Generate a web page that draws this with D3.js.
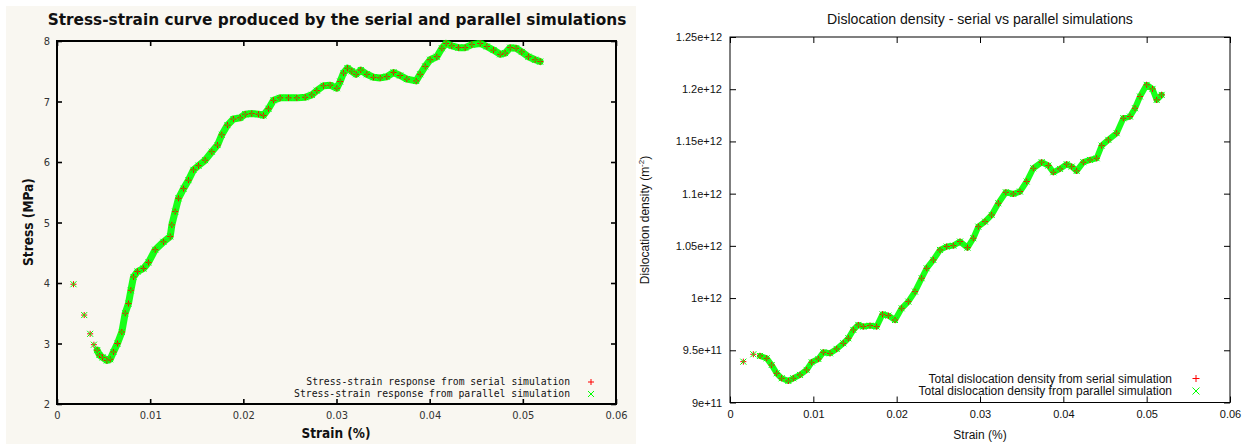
<!DOCTYPE html>
<html><head><meta charset="utf-8">
<script src="https://cdn.jsdelivr.net/npm/d3@7"></script>
<style>body{margin:0;background:#fff}svg{display:block}</style>
</head><body>
<svg id="c" width="1250" height="444"></svg>
<script>
// ---------- Left chart data: stress-strain ----------
const strainTicks = [0, 0.01, 0.02, 0.03, 0.04, 0.05, 0.06];
const strainTickLabels = ["0", "0.01", "0.02", "0.03", "0.04", "0.05", "0.06"];
const stressTicks = [2, 3, 4, 5, 6, 7, 8];
const stressTickLabels = ["2", "3", "4", "5", "6", "7", "8"];

const strainL = [0.00177,0.00292,0.00356,0.00396,0.00431,0.00456,0.00489,0.00535,0.00571,0.00606,0.00649,0.00696,0.00732,0.00767,0.00793,0.00821,0.00864,0.00928,0.00982,0.01054,0.01143,0.01215,0.01233,0.01268,0.01304,0.01358,0.01411,0.01465,0.01519,0.0159,0.01662,0.01723,0.01769,0.0183,0.01894,0.01966,0.0202,0.02091,0.02163,0.02216,0.0227,0.02324,0.02395,0.02485,0.02574,0.02664,0.02735,0.02789,0.02861,0.02932,0.03004,0.03039,0.03075,0.03118,0.03165,0.03211,0.03261,0.03326,0.03397,0.03469,0.0354,0.03612,0.03683,0.03755,0.03855,0.03898,0.03952,0.04005,0.04077,0.04131,0.04177,0.04238,0.0431,0.04381,0.04453,0.04542,0.04614,0.04685,0.04757,0.0481,0.04864,0.04928,0.04989,0.0506,0.05132,0.05186];
const stressSerial = [3.98,3.47,3.16,2.98,2.89,2.81,2.77,2.72,2.74,2.86,3.00,3.19,3.50,3.66,3.88,4.10,4.19,4.24,4.34,4.55,4.68,4.77,4.96,5.18,5.40,5.56,5.70,5.87,5.94,6.03,6.17,6.28,6.45,6.61,6.71,6.73,6.79,6.80,6.79,6.77,6.88,7.02,7.06,7.06,7.06,7.07,7.11,7.18,7.26,7.27,7.22,7.33,7.47,7.55,7.50,7.45,7.52,7.45,7.40,7.39,7.41,7.48,7.43,7.37,7.34,7.45,7.58,7.69,7.74,7.88,7.96,7.92,7.89,7.89,7.94,7.96,7.91,7.85,7.78,7.80,7.89,7.88,7.82,7.74,7.69,7.66];
// the parallel run overlaps the serial one in the picture
const stressParallel = stressSerial;
const denseStartL = 4; // first few samples are isolated markers

// ---------- Right chart data: dislocation density (units of 1e12 m^-2) ----------
const densityTicks = [0.9, 0.95, 1.0, 1.05, 1.1, 1.15, 1.2, 1.25];
const densityTickLabels = ["9e+11", "9.5e+11", "1e+12", "1.05e+12", "1.1e+12", "1.15e+12", "1.2e+12", "1.25e+12"];
const strainR = [0.0016,0.0028,0.0036,0.0044,0.005,0.0056,0.0062,0.007,0.0076,0.0084,0.0092,0.0098,0.0106,0.0112,0.012,0.0128,0.0136,0.0142,0.0148,0.0154,0.016,0.0168,0.0176,0.0183,0.019,0.0198,0.0206,0.0214,0.0222,0.023,0.0236,0.0244,0.0252,0.026,0.0268,0.0276,0.0285,0.0292,0.0298,0.0306,0.0314,0.0322,0.0331,0.034,0.0348,0.0356,0.0364,0.0374,0.0382,0.0388,0.0396,0.0404,0.041,0.0416,0.0424,0.0432,0.044,0.0446,0.0454,0.0464,0.0472,0.048,0.0486,0.0492,0.05,0.0507,0.0512,0.0518];
const densitySerial = [0.9391,0.9462,0.9446,0.9423,0.9359,0.9280,0.9232,0.9206,0.9232,0.9264,0.9312,0.9385,0.9417,0.9481,0.9471,0.9513,0.9567,0.9615,0.9695,0.9743,0.9727,0.9736,0.9727,0.9845,0.9832,0.9790,0.9902,0.9966,1.0062,1.0190,1.0285,1.0365,1.0461,1.0493,1.0502,1.0541,1.0483,1.0573,1.0684,1.0732,1.0796,1.0908,1.1013,1.0997,1.1020,1.1116,1.1243,1.1301,1.1269,1.1205,1.1237,1.1282,1.1259,1.1218,1.1301,1.1323,1.1339,1.1460,1.1515,1.1579,1.1722,1.1738,1.1818,1.1930,1.2042,1.2003,1.1898,1.1946];
const densityParallel = densitySerial;
const denseStartR = 2;

const seriesLabelsL = ["Stress-strain response from serial simulation", "Stress-strain response from parallel simulation"];
const seriesLabelsR = ["Total dislocation density from serial simulation", "Total dislocation density from parallel simulation"];

const RED = "#ff0000", GREEN = "#00ff00";
const svg = d3.select("#c");

function fit(t, w) {
  const l = t.node().getComputedTextLength();
  const fs = parseFloat(t.attr("font-size"));
  t.attr("font-size", (fs * w / l).toFixed(2));
  return t;
}
const plusPath = s => `M${-s},0H${s}M0,${-s}V${s}`;
const crossPath = s => `M${-s},${-s}L${s},${s}M${-s},${s}L${s},${-s}`;

function drawSeries(g, xs, ysA, ysB, x, y, start, band, ms) {
  const ptsA = xs.map((v, i) => [v, ysA[i]]);
  const ptsB = xs.map((v, i) => [v, ysB[i]]);
  const line = d3.line().x(d => x(d[0])).y(d => y(d[1]));
  g.append("path").datum(ptsB.slice(start)).attr("d", line)
    .attr("fill", "none").attr("stroke", GREEN).attr("stroke-width", band)
    .attr("stroke-linejoin", "round").attr("stroke-linecap", "round").attr("opacity", 0.9);
  g.selectAll(null).data(ptsA).join("path")
    .attr("transform", d => `translate(${x(d[0])},${y(d[1])})`)
    .attr("d", plusPath(ms)).attr("stroke", RED).attr("stroke-width", 1).attr("fill", "none");
  g.selectAll(null).data(ptsB).join("path")
    .attr("transform", d => `translate(${x(d[0])},${y(d[1])})`)
    .attr("d", crossPath(ms)).attr("stroke", GREEN).attr("stroke-width", 1).attr("fill", "none");
}

// ================= LEFT CHART =================
{
  const g = svg.append("g");
  g.append("rect").attr("x", 6).attr("y", 6).attr("width", 630).attr("height", 438).attr("fill", "#f9f7f1");
  const x = d3.scaleLinear().domain([0, 0.06]).range([57, 616]);
  const y = d3.scaleLinear().domain([2, 8]).range([404, 41]);
  const tickFont = "'DejaVu Sans Condensed', 'DejaVu Sans', sans-serif";

  const ax = g.append("g").attr("transform", "translate(0,404)")
    .call(d3.axisBottom(x).tickValues(strainTicks).tickFormat((d, i) => strainTickLabels[i]).tickSize(-5).tickPadding(7));
  const ay = g.append("g").attr("transform", "translate(57,0)")
    .call(d3.axisLeft(y).tickValues(stressTicks).tickFormat((d, i) => stressTickLabels[i]).tickSize(-5).tickPadding(7));
  const at = g.append("g").attr("transform", "translate(0,41)")
    .call(d3.axisTop(x).tickValues(strainTicks).tickFormat("").tickSize(-5));
  const ar = g.append("g").attr("transform", "translate(616,0)")
    .call(d3.axisRight(y).tickValues(stressTicks).tickFormat("").tickSize(-5));
  [ax, ay, at, ar].forEach(a => {
    a.select(".domain").remove();
    a.selectAll(".tick line").attr("stroke", "#000").attr("stroke-width", 1.6);
    a.selectAll(".tick text").attr("font-family", tickFont).attr("font-size", 11).attr("fill", "#333");
  });
  g.append("rect").attr("x", 57).attr("y", 41).attr("width", 559).attr("height", 363)
    .attr("fill", "none").attr("stroke", "#000").attr("stroke-width", 2);

  drawSeries(g.append("g"), strainL, stressSerial, stressParallel, x, y, denseStartL, 7, 3);

  // title & labels
  fit(g.append("text").attr("x", 337).attr("y", 25).attr("text-anchor", "middle")
    .attr("font-family", "'DejaVu Sans', sans-serif").attr("font-weight", "bold").attr("font-size", 15)
    .attr("fill", "#111").text("Stress-strain curve produced by the serial and parallel simulations"), 579);
  fit(g.append("text").attr("x", 336).attr("y", 438).attr("text-anchor", "middle")
    .attr("font-family", "'DejaVu Sans Condensed', 'DejaVu Sans', sans-serif").attr("font-weight", "bold").attr("font-size", 14)
    .attr("fill", "#111").text("Strain (%)"), 69);
  fit(g.append("text").attr("transform", "translate(33,222) rotate(-90)").attr("text-anchor", "middle")
    .attr("font-family", "'DejaVu Sans Condensed', 'DejaVu Sans', sans-serif").attr("font-weight", "bold").attr("font-size", 14)
    .attr("fill", "#111").text("Stress (MPa)"), 88);

  // legend
  const ly = [382, 394];
  seriesLabelsL.forEach((s, i) => {
    const t = g.append("text").attr("x", 570).attr("y", ly[i]).attr("dy", "0.35em").attr("text-anchor", "end")
      .attr("font-family", "'DejaVu Sans Mono', monospace").attr("font-size", 10).attr("fill", "#111").text(s);
    fit(t, i === 0 ? 264 : 276);
  });
  g.append("path").attr("transform", `translate(591,${ly[0]})`).attr("d", plusPath(3)).attr("stroke", RED).attr("fill", "none");
  g.append("path").attr("transform", `translate(591,${ly[1]})`).attr("d", crossPath(3)).attr("stroke", GREEN).attr("fill", "none");
}

// ================= RIGHT CHART =================
{
  const g = svg.append("g");
  const x = d3.scaleLinear().domain([0, 0.06]).range([730, 1230]);
  const y = d3.scaleLinear().domain([0.9, 1.25]).range([402.5, 37]);
  const font = "'Liberation Sans', Arial, sans-serif";

  const ax = g.append("g").attr("transform", "translate(0,402.5)")
    .call(d3.axisBottom(x).tickValues(strainTicks).tickFormat((d, i) => strainTickLabels[i]).tickSize(-6).tickPadding(8));
  const ay = g.append("g").attr("transform", "translate(730,0)")
    .call(d3.axisLeft(y).tickValues(densityTicks).tickFormat((d, i) => densityTickLabels[i]).tickSize(-6).tickPadding(8));
  const at = g.append("g").attr("transform", "translate(0,37)")
    .call(d3.axisTop(x).tickValues(strainTicks).tickFormat("").tickSize(-6));
  const ar = g.append("g").attr("transform", "translate(1230,0)")
    .call(d3.axisRight(y).tickValues(densityTicks).tickFormat("").tickSize(-6));
  [ax, ay, at, ar].forEach(a => {
    a.select(".domain").remove();
    a.selectAll(".tick line").attr("stroke", "#000").attr("stroke-width", 1);
    a.selectAll(".tick text").attr("font-family", font).attr("font-size", 11).attr("fill", "#111");
  });
  g.append("rect").attr("x", 730).attr("y", 37).attr("width", 500).attr("height", 365.5)
    .attr("fill", "none").attr("stroke", "#000").attr("stroke-width", 1);

  drawSeries(g.append("g"), strainR, densitySerial, densityParallel, x, y, denseStartR, 6, 3);

  fit(g.append("text").attr("x", 980).attr("y", 24).attr("text-anchor", "middle")
    .attr("font-family", font).attr("font-size", 14).attr("fill", "#111")
    .text("Dislocation density - serial vs parallel simulations"), 306);
  g.append("text").attr("x", 980).attr("y", 439).attr("text-anchor", "middle")
    .attr("font-family", font).attr("font-size", 12).attr("fill", "#111").text("Strain (%)");
  const yl = g.append("text").attr("transform", "translate(649,220) rotate(-90)").attr("text-anchor", "middle")
    .attr("font-family", font).attr("font-size", 12).attr("fill", "#111");
  yl.append("tspan").text("Dislocation density (m");
  yl.append("tspan").attr("font-size", 8).attr("dy", -5).text("-2");
  yl.append("tspan").attr("dy", 5).text(")");

  const ly = [378.5, 391];
  seriesLabelsR.forEach((s, i) => {
    g.append("text").attr("x", 1172).attr("y", ly[i]).attr("dy", "0.35em").attr("text-anchor", "end")
      .attr("font-family", font).attr("font-size", 12).attr("fill", "#111").text(s);
  });
  g.append("path").attr("transform", `translate(1196,${ly[0]})`).attr("d", plusPath(3.5)).attr("stroke", RED).attr("fill", "none");
  g.append("path").attr("transform", `translate(1196,${ly[1]})`).attr("d", crossPath(3.5)).attr("stroke", GREEN).attr("fill", "none");
}
</script></body></html>
